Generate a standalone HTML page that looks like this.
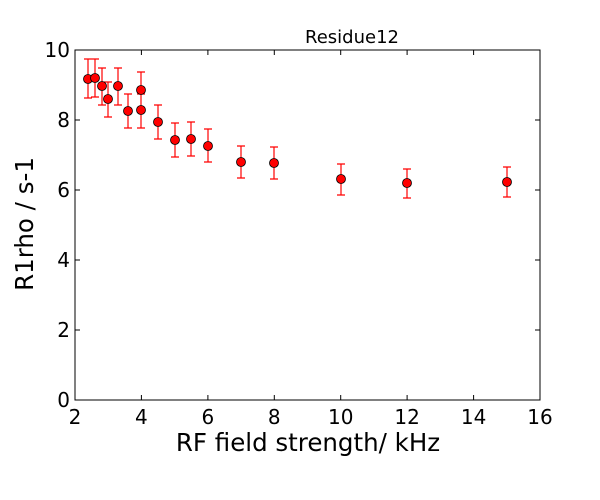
<!DOCTYPE html>
<html><head><style>body{margin:0;background:#fff}svg{display:block}</style></head><body>
<svg width="600" height="500" xmlns="http://www.w3.org/2000/svg" font-family="DejaVu Sans, Liberation Sans, sans-serif">
<rect width="600" height="500" fill="#fff"/>
<g stroke="#000" stroke-width="1">
<line x1="141.4" y1="400" x2="141.4" y2="395"/><line x1="207.9" y1="400" x2="207.9" y2="395"/><line x1="274.3" y1="400" x2="274.3" y2="395"/><line x1="340.7" y1="400" x2="340.7" y2="395"/><line x1="407.1" y1="400" x2="407.1" y2="395"/><line x1="473.6" y1="400" x2="473.6" y2="395"/>
<line x1="141.4" y1="50" x2="141.4" y2="55"/><line x1="207.9" y1="50" x2="207.9" y2="55"/><line x1="274.3" y1="50" x2="274.3" y2="55"/><line x1="340.7" y1="50" x2="340.7" y2="55"/><line x1="407.1" y1="50" x2="407.1" y2="55"/><line x1="473.6" y1="50" x2="473.6" y2="55"/>
<line x1="75" y1="330" x2="80" y2="330"/><line x1="75" y1="260" x2="80" y2="260"/><line x1="75" y1="190" x2="80" y2="190"/><line x1="75" y1="120" x2="80" y2="120"/>
<line x1="540" y1="330" x2="535" y2="330"/><line x1="540" y1="260" x2="535" y2="260"/><line x1="540" y1="190" x2="535" y2="190"/><line x1="540" y1="120" x2="535" y2="120"/>
</g>
<g stroke="#f00" stroke-width="1.2" fill="none">
<path d="M88,59V98M84,59h8M84,98h8
M95,59V97M91,59h8M91,97h8
M102,68V105M98,68h8M98,105h8
M108,82V117M104,82h8M104,117h8
M118,68V105M114,68h8M114,105h8
M128,94V128M124,94h8M124,128h8
M141,94V128M137,94h8M137,128h8
M141,72V111M137,72h8M137,111h8
M158,105V139M154,105h8M154,139h8
M175,123V157M171,123h8M171,157h8
M191,122V156M187,122h8M187,156h8
M208,129V162M204,129h8M204,162h8
M241,146V178M237,146h8M237,178h8
M274,147V179M270,147h8M270,179h8
M341,164V195M337,164h8M337,195h8
M407,169V198M403,169h8M403,198h8
M507,167V197M503,167h8M503,197h8"/>
</g>
<g fill="#f00" stroke="#000" stroke-width="0.8">
<circle cx="88" cy="79" r="4.5"/><circle cx="95" cy="78" r="4.5"/><circle cx="102" cy="86" r="4.5"/><circle cx="108" cy="99" r="4.5"/><circle cx="118" cy="86" r="4.5"/><circle cx="128" cy="111" r="4.5"/><circle cx="141" cy="110" r="4.5"/><circle cx="141" cy="90" r="4.5"/><circle cx="158" cy="122" r="4.5"/><circle cx="175" cy="140" r="4.5"/><circle cx="191" cy="139" r="4.5"/><circle cx="208" cy="146" r="4.5"/><circle cx="241" cy="162" r="4.5"/><circle cx="274" cy="163" r="4.5"/><circle cx="341" cy="179" r="4.5"/><circle cx="407" cy="183" r="4.5"/><circle cx="507" cy="182" r="4.5"/>
</g>
<rect x="75" y="50" width="465" height="350" fill="none" stroke="#000" stroke-width="1"/>
<g font-size="20" fill="#000" text-anchor="middle">
<text x="75" y="424">2</text><text x="141.4" y="424">4</text><text x="207.9" y="424">6</text><text x="274.3" y="424">8</text><text x="340.7" y="424">10</text><text x="407.1" y="424">12</text><text x="473.6" y="424">14</text><text x="540" y="424">16</text>
</g>
<g font-size="20" fill="#000" text-anchor="end">
<text x="70" y="407">0</text><text x="70" y="337">2</text><text x="70" y="267">4</text><text x="70" y="197">6</text><text x="70" y="127">8</text><text x="70" y="57">10</text>
</g>
<text x="308" y="451" font-size="24.5" text-anchor="middle">RF field strength/ kHz</text>
<text transform="translate(33,224) rotate(-90)" font-size="24.5" text-anchor="middle">R1rho / s-1</text>
<text x="352" y="43" font-size="18" text-anchor="middle">Residue12</text>
</svg>
</body></html>
